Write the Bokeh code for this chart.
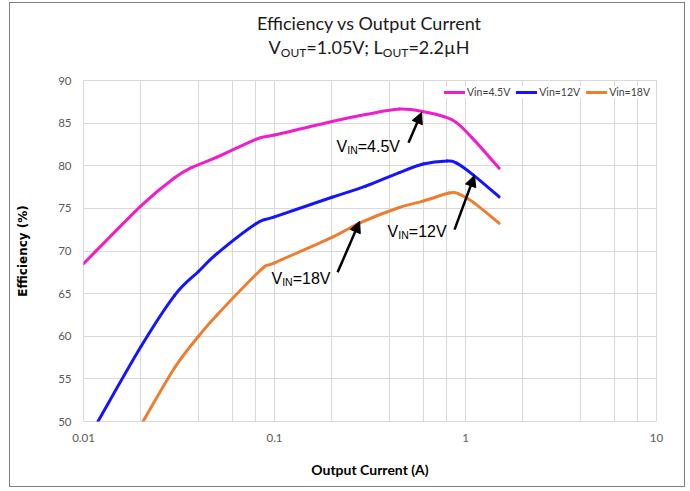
import math
from bokeh.plotting import figure
from bokeh.layouts import column
from bokeh.models import (Label, Arrow, NormalHead, SingleIntervalTicker, LogTicker,
                          CustomJSTickFormatter, Range1d, Div)
from bokeh.embed import file_html
from bokeh.resources import INLINE

# ---- data ----
current_45 = [0.01, 0.02, 0.03, 0.037, 0.05, 0.08, 0.1, 0.2, 0.3, 0.45, 0.6, 0.85, 1.08, 1.5]
eff_45 = [68.5, 75.3, 78.6, 79.8, 81.0, 83.1, 83.6, 85.2, 86.0, 86.65, 86.35, 85.4, 83.3, 79.7]

current_12 = [0.0119, 0.02, 0.03, 0.04, 0.05, 0.08, 0.1, 0.2, 0.3, 0.45, 0.6, 0.8, 0.9, 1.1, 1.5]
eff_12 = [50.0, 58.8, 64.8, 67.6, 69.7, 73.2, 74.0, 76.3, 77.6, 79.2, 80.2, 80.55, 80.3, 78.9, 76.35]

current_18 = [0.0205, 0.03, 0.04, 0.05, 0.085, 0.1, 0.2, 0.28, 0.45, 0.6, 0.82, 0.92, 1.1, 1.5]
eff_18 = [50.0, 56.3, 60.0, 62.5, 67.8, 68.6, 71.6, 73.3, 75.1, 75.85, 76.8, 76.7, 75.7, 73.25]

series_labels = ["Vin=4.5V", "Vin=12V", "Vin=18V"]
series_colors = ["#F01EC8", "#1414FF", "#ED7D31"]

y_min, y_max, y_step = 50, 90, 5

GRID = "#d9d9d9"

title_html = (
    '<div style="display:block; width:674px; box-sizing:border-box; padding-left:44px;'
    ' font-family:Lato; color:#1a1a1a; text-align:center;'
    ' padding-top:8px; line-height:24px; font-size:18px; white-space:nowrap;">'
    'Efficiency vs Output Current<br>'
    'V<sub style="font-size:12px; line-height:0; vertical-align:-3px;">OUT</sub>=1.05V; '
    'L<sub style="font-size:12px; line-height:0; vertical-align:-3px;">OUT</sub>=2.2\u00b5H'
    '</div>'
)
header = Div(text=title_html, width=674, height=60, margin=0)

p = figure(width=674, height=423, x_axis_type="log",
           x_range=Range1d(0.01, 10), y_range=Range1d(y_min, y_max),
           output_backend="svg", toolbar_location=None,
           min_border_left=73, min_border_right=28, min_border_top=17, min_border_bottom=65)


def smooth(xs, ys):
    """Bezier control points (Catmull-Rom in log-x space) through the read points."""
    u = [math.log10(v) for v in xs]
    P = list(zip(u, ys))
    n = len(P)
    out = {k: [] for k in ("x0", "y0", "x1", "y1", "cx0", "cy0", "cx1", "cy1")}
    for i in range(n - 1):
        p0 = P[i - 1] if i > 0 else P[i]
        p1, p2 = P[i], P[i + 1]
        p3 = P[i + 2] if i + 2 < n else P[i + 1]
        c1 = (p1[0] + (p2[0] - p0[0]) / 6, p1[1] + (p2[1] - p0[1]) / 6)
        c2 = (p2[0] - (p3[0] - p1[0]) / 6, p2[1] - (p3[1] - p1[1]) / 6)
        out["x0"].append(10 ** p1[0]); out["y0"].append(p1[1])
        out["x1"].append(10 ** p2[0]); out["y1"].append(p2[1])
        out["cx0"].append(10 ** c1[0]); out["cy0"].append(c1[1])
        out["cx1"].append(10 ** c2[0]); out["cy1"].append(c2[1])
    return out


for xs, ys, lab, col in zip([current_45, current_12, current_18],
                            [eff_45, eff_12, eff_18], series_labels, series_colors):
    s = smooth(xs, ys)
    p.bezier(x0=s["x0"], y0=s["y0"], x1=s["x1"], y1=s["y1"],
             cx0=s["cx0"], cy0=s["cy0"], cx1=s["cx1"], cy1=s["cy1"],
             line_color=col, line_width=3, line_cap="round", legend_label=lab)

# axes
p.xaxis.ticker = LogTicker()
p.xaxis.formatter = CustomJSTickFormatter(code="return String(Number(tick.toPrecision(3)));")
p.yaxis.ticker = SingleIntervalTicker(interval=y_step, num_minor_ticks=0)
for ax in (p.xaxis[0], p.yaxis[0]):
    ax.axis_line_color = None
    ax.major_tick_line_color = None
    ax.minor_tick_line_color = None
    ax.major_label_text_font = "Lato"
    ax.major_label_text_font_size = "11.5px"
    ax.major_label_text_color = "#595959"
p.xaxis.major_label_standoff = 6
p.yaxis.major_label_standoff = 6

p.xaxis.axis_label = "Output Current (A)"
p.xaxis.axis_label_text_font = "Lato"
p.xaxis.axis_label_text_font_style = "bold"
p.xaxis.axis_label_text_font_size = "14px"
p.xaxis.axis_label_text_color = "black"
p.xaxis.axis_label_standoff = 16

p.yaxis.axis_label = "Efficiency (%)"
p.yaxis.axis_label_text_font = "DejaVu Sans"
p.yaxis.axis_label_text_font_style = "bold"
p.yaxis.axis_label_text_font_size = "12px"
p.yaxis.axis_label_text_color = "black"
p.yaxis.axis_label_standoff = 25

p.xgrid.grid_line_color = GRID
p.xgrid.minor_grid_line_color = GRID
p.ygrid.grid_line_color = GRID
p.outline_line_color = GRID

# legend
lg = p.legend[0]
lg.orientation = "horizontal"
lg.location = "top_right"
lg.label_text_font = "Lato"
lg.label_text_font_size = "10.5px"
lg.label_text_color = "#404040"
lg.glyph_width = 21
lg.glyph_height = 12
lg.label_standoff = 2
lg.spacing = 6
lg.padding = 3
lg.margin = 6
lg.border_line_color = None
lg.background_fill_color = "white"
lg.background_fill_alpha = 1.0


def rich(x, y, pieces, font, size, sub_size, sub_drop, lift=6):
    for txt, dx, is_sub in pieces:
        p.add_layout(Label(x=x, y=y, x_offset=dx, y_offset=lift - (sub_drop if is_sub else 0),
                           text=txt, text_font=font,
                           text_font_size=(sub_size if is_sub else size),
                           text_color="black", text_baseline="alphabetic",
                           text_align="left"))


# annotations
ann_pieces = lambda rest: [("V", 0, False), ("IN", 10.7, True), (rest, 21.2, False)]
rich(0.2113, 81.56, ann_pieces("=4.5V"), "Liberation Sans", "16px", "10.5px", 4)
rich(0.391, 71.6, ann_pieces("=12V"), "Liberation Sans", "16px", "10.5px", 4)
rich(0.0964, 66.1, ann_pieces("=18V"), "Liberation Sans", "16px", "10.5px", 4)

for (xs, ys, xe, ye) in [(0.503, 82.7, 0.589, 86.25),
                         (0.876, 72.5, 1.114, 78.86),
                         (0.214, 67.5, 0.279, 73.47)]:
    p.add_layout(Arrow(x_start=xs, y_start=ys, x_end=xe, y_end=ye, line_width=2.5,
                       line_color="black",
                       end=NormalHead(size=11, fill_color="black", line_color="black")))

layout = column(header, p, spacing=0)
layout.styles = {"margin": "3px 0 0 10px", "outline": "1px solid #7f7f7f"}

open("out.html", "w").write(file_html(layout, INLINE))
